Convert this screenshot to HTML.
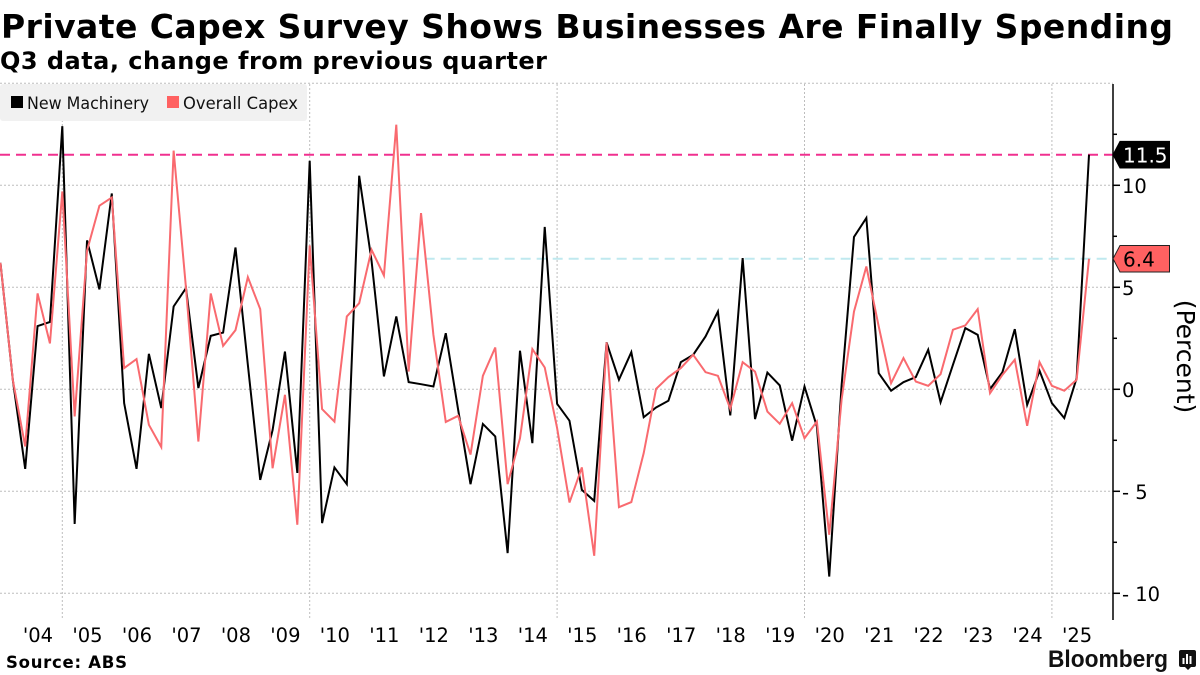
<!DOCTYPE html>
<html lang="en">
<head>
<meta charset="utf-8">
<title>Private Capex Survey Shows Businesses Are Finally Spending</title>
<style>
html,body{margin:0;padding:0;background:#fff;}
svg{display:block;}
text{font-family:"DejaVu Sans","Liberation Sans",sans-serif;}
</style>
</head>
<body>
<svg id="chart" xmlns="http://www.w3.org/2000/svg" width="1200" height="675" viewBox="0 0 1200 675">
  <rect x="0" y="0" width="1200" height="675" fill="#ffffff"/>
  <text x="1" y="38" font-size="33" font-weight="700" fill="#000" textLength="1172" lengthAdjust="spacing">Private Capex Survey Shows Businesses Are Finally Spending</text>
  <text x="0" y="69" font-size="24" font-weight="700" fill="#000" textLength="547" lengthAdjust="spacing">Q3 data, change from previous quarter</text>
  <g id="grid"></g>
  <g id="series"></g>
  <g id="axis"></g>
  <g id="xlabels"></g>
  <g>
    <rect x="0" y="84" width="307" height="37" rx="3" fill="#f1f1f1"/>
    <rect x="11" y="96" width="12" height="12" fill="#000"/>
    <text x="27" y="109" font-size="16.5" fill="#111" textLength="122" lengthAdjust="spacingAndGlyphs">New Machinery</text>
    <rect x="167" y="96" width="12" height="12" fill="#ff6161"/>
    <text x="183" y="109" font-size="16.5" fill="#111" textLength="115" lengthAdjust="spacingAndGlyphs">Overall Capex</text>
  </g>
  <text transform="translate(1177,356.5) rotate(90)" text-anchor="middle" font-size="25" fill="#000">(Percent)</text>
  <text x="6" y="668" font-size="16.5" font-weight="700" fill="#000" textLength="121" lengthAdjust="spacing">Source: ABS</text>
  <text x="1048" y="667" style="font-family:'Liberation Sans',sans-serif" font-size="24" font-weight="700" fill="#111" textLength="120" lengthAdjust="spacingAndGlyphs">Bloomberg</text>
  <g>
    <path d="M1181 650h13a2 2 0 0 1 2 2v13a2 2 0 0 1-2 2h-3l-3 3-3-3h-4a2 2 0 0 1-2-2v-13a2 2 0 0 1 2-2z" fill="#111"/>
    <rect x="1182.5" y="658" width="2" height="6" fill="#fff"/>
    <rect x="1186" y="654" width="2" height="10" fill="#fff"/>
    <rect x="1189.5" y="656" width="2" height="8" fill="#fff"/>
  </g>
  <g id="endlabels"></g>
</svg>
<script>
var yearLabels = ["'04","'05","'06","'07","'08","'09","'10","'11","'12","'13","'14","'15","'16","'17","'18","'19","'20","'21","'22","'23","'24","'25"];
var yTickValues = [10, 5, 0, -5, -10];
var yMinorTickValues = [12.5, 7.5, 2.5, -2.5, -7.5];
var yGridValues = [15, 10, 5, 0, -5, -10];
var xGridQuarterIndexes = [5, 25, 45, 65, 85];
var newMachinery = [6.2,0.46,-3.9,3.1,3.3,12.9,-6.6,7.3,4.9,9.6,-0.68,-3.9,1.74,-0.92,4.06,4.96,0.06,2.62,2.78,6.95,1.2,-4.44,-2.0,1.85,-4.1,11.2,-6.56,-3.83,-4.65,10.47,6.3,0.63,3.57,0.35,0.25,0.14,2.75,-1.0,-4.65,-1.7,-2.31,-8.03,1.89,-2.64,7.96,-0.71,-1.54,-4.93,-5.47,2.3,0.47,1.82,-1.37,-0.89,-0.56,1.33,1.69,2.59,3.81,-1.28,6.43,-1.46,0.82,0.19,-2.52,0.14,-1.82,-9.18,0.2,7.47,8.4,0.79,-0.07,0.35,0.6,1.94,-0.63,1.2,3.0,2.67,0.01,0.84,2.95,-0.76,0.91,-0.68,-1.41,0.55,11.5];
var overallCapex = [6.2,0.46,-2.8,4.7,2.25,9.7,-1.33,6.8,9.0,9.4,1.04,1.48,-1.74,-2.83,11.7,4.96,-2.56,4.7,2.13,2.9,5.5,3.93,-3.87,-0.27,-6.64,7.05,-0.97,-1.58,3.57,4.22,6.84,5.58,12.97,0.87,8.64,2.67,-1.6,-1.3,-3.2,0.66,2.05,-4.65,-2.4,1.97,1.07,-1.9,-5.55,-3.83,-8.16,2.3,-5.78,-5.53,-3.13,0.02,0.6,1.04,1.69,0.84,0.66,-0.96,1.33,0.87,-1.09,-1.69,-0.68,-2.4,-1.58,-7.13,-0.5,3.81,6.02,3.08,0.3,1.53,0.38,0.17,0.74,2.92,3.13,3.93,-0.19,0.71,1.45,-1.79,1.33,0.17,-0.07,0.47,6.4];

var SVGNS = 'http://www.w3.org/2000/svg';
function xScale(i){ return 0.45 + 12.37 * i; }
function yScale(v){ return 389.3 - 20.4 * v; }
function make(tag, parentId, attrs, text){
  var el = document.createElementNS(SVGNS, tag);
  for (var k in attrs) el.setAttribute(k, attrs[k]);
  if (text !== undefined) el.textContent = text;
  document.getElementById(parentId).appendChild(el);
  return el;
}
function tickText(v){ return v < 0 ? '- ' + Math.abs(v) : String(v); }
function linePath(values){
  return values.map(function(v, i){
    return (i ? 'L' : 'M') + xScale(i).toFixed(2) + ' ' + yScale(v).toFixed(2);
  }).join('');
}

var axisX = 1113, axisTop = 84, axisBottom = 620;

yGridValues.forEach(function(v){
  var g = make('line', 'grid', {x1:0, x2:axisX, y1:yScale(v), y2:yScale(v), stroke:'#bdbdbd', 'stroke-width':1, 'stroke-dasharray':'2 2'});
  
  
});
xGridQuarterIndexes.forEach(function(i){
  var g = make('line', 'grid', {x1:xScale(i), x2:xScale(i), y1:axisTop, y2:axisBottom, stroke:'#bdbdbd', 'stroke-width':1, 'stroke-dasharray':'2 2'});
  
  
});

var lastBlack = newMachinery[newMachinery.length - 1];
var lastRed = overallCapex[overallCapex.length - 1];

var pinkLine = make('line', 'series', {x1:0, x2:axisX, y1:yScale(lastBlack), y2:yScale(lastBlack), stroke:'#f0308f', 'stroke-width':2, 'stroke-dasharray':'10 6'});


var cyanLine = make('line', 'series', {x1:xScale(33), x2:axisX, y1:yScale(lastRed), y2:yScale(lastRed), stroke:'#bfe9ef', 'stroke-width':2, 'stroke-dasharray':'10 6'});



var blackPath = make('path', 'series', {d:linePath(newMachinery), fill:'none', stroke:'#000', 'stroke-width':2, 'stroke-linejoin':'miter'});


var redPath = make('path', 'series', {d:linePath(overallCapex), fill:'none', stroke:'#f96a6f', 'stroke-width':2, 'stroke-linejoin':'miter'});



var axisLine = make('line', 'axis', {x1:axisX, x2:axisX, y1:axisTop, y2:axisBottom, stroke:'#000', 'stroke-width':1.5});


yTickValues.forEach(function(v){
  var t = make('line', 'axis', {x1:axisX, x2:axisX + 7, y1:yScale(v), y2:yScale(v), stroke:'#000', 'stroke-width':1.5});
  
  
  var l = make('text', 'axis', {x:1122, y:yScale(v) + 7.5, 'font-size':19.5, fill:'#000'}, tickText(v));
  
  
});
yMinorTickValues.forEach(function(v){
  var t = make('line', 'axis', {x1:axisX, x2:axisX + 4, y1:yScale(v), y2:yScale(v), stroke:'#000', 'stroke-width':1.5});
  
  
});

yearLabels.forEach(function(label, k){
  var l = make('text', 'xlabels', {x:38 + 49.48 * k, y:642, 'font-size':19.5, fill:'#000', 'text-anchor':'middle'}, label);
  
  
});

function tagPoints(yc){
  var top = yc - 13.3, bot = yc + 13.3;
  return axisX + ',' + yc + ' ' + (axisX + 7) + ',' + top + ' 1169.5,' + top + ' 1169.5,' + bot + ' ' + (axisX + 7) + ',' + bot;
}
var blackTag = make('polygon', 'endlabels', {points:tagPoints(yScale(lastBlack)), fill:'#000', stroke:'#000', 'stroke-width':1});


var blackTagText = make('text', 'endlabels', {x:1123, y:yScale(lastBlack) + 8, 'font-size':20, fill:'#fff'}, lastBlack.toFixed(1));


var redTag = make('polygon', 'endlabels', {points:tagPoints(yScale(lastRed)), fill:'#ff6161', stroke:'#222', 'stroke-width':1});


var redTagText = make('text', 'endlabels', {x:1123, y:yScale(lastRed) + 8, 'font-size':20, fill:'#000'}, lastRed.toFixed(1));


</script>
</body>
</html>
